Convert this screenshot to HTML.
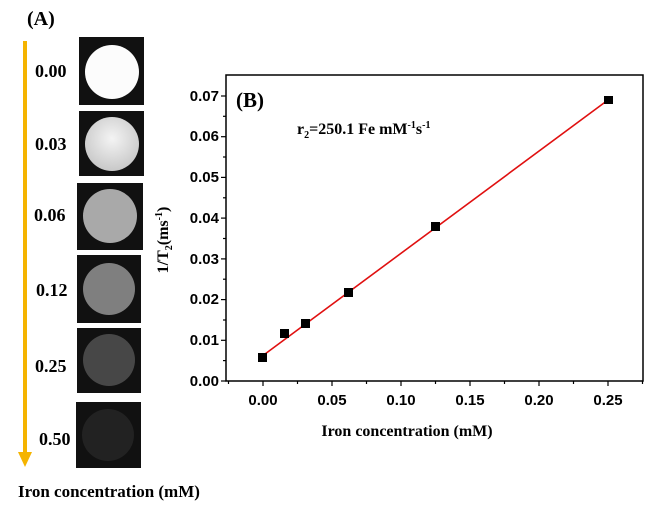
<!DOCTYPE html>
<html><head><style>
body{margin:0;width:659px;height:509px;background:#fff;overflow:hidden;position:relative;font-family:"Liberation Serif",serif;font-weight:bold}
</style></head><body>
<svg width="659" height="509" style="position:absolute;left:0;top:0" font-family="Liberation Serif, serif" font-weight="bold">
<defs>
<radialGradient id="g2" cx="0.5" cy="0.4" r="0.6"><stop offset="0" stop-color="#f4f4f4"/><stop offset="1" stop-color="#c8c8c8"/></radialGradient>
</defs>
<text x="27" y="25" font-size="20">(A)</text>
<line x1="25" y1="41" x2="25" y2="455" stroke="#f5b400" stroke-width="4"/>
<polygon points="18,452 32,452 25,467" fill="#f5b400"/>
<rect x="79" y="37" width="65" height="68" fill="#111"/><circle cx="112" cy="72" r="27" fill="#fcfcfc"/>
<rect x="79" y="111" width="65" height="65" fill="#111"/><circle cx="112" cy="144" r="27" fill="url(#g2)"/>
<rect x="77" y="183" width="66" height="67" fill="#111"/><circle cx="110" cy="216" r="27" fill="#a9a9a9"/>
<rect x="77" y="255" width="64" height="68" fill="#111"/><circle cx="109" cy="289" r="26" fill="#7f7f7f"/>
<rect x="77" y="328" width="64" height="65" fill="#111"/><circle cx="109" cy="360" r="26" fill="#474747"/>
<rect x="76" y="402" width="65" height="66" fill="#111"/><circle cx="108" cy="435" r="26" fill="#222"/>
<g font-size="18">
<text x="35" y="77">0.00</text><text x="35" y="150">0.03</text><text x="34" y="221">0.06</text>
<text x="36" y="296">0.12</text><text x="35" y="372">0.25</text><text x="39" y="445">0.50</text>
</g>
<text x="18" y="497" font-size="17">Iron concentration (mM)</text>
<rect x="226" y="75" width="417" height="306" fill="none" stroke="#000" stroke-width="1.5"/>
<g stroke="#000" stroke-width="1.2">
<line x1="226" y1="381" x2="221" y2="381"/><line x1="226" y1="340.3" x2="221" y2="340.3"/><line x1="226" y1="299.6" x2="221" y2="299.6"/><line x1="226" y1="258.9" x2="221" y2="258.9"/><line x1="226" y1="218.1" x2="221" y2="218.1"/><line x1="226" y1="177.4" x2="221" y2="177.4"/><line x1="226" y1="136.7" x2="221" y2="136.7"/><line x1="226" y1="96" x2="221" y2="96"/>
<line x1="226" y1="360.6" x2="223" y2="360.6"/><line x1="226" y1="320" x2="223" y2="320"/><line x1="226" y1="279.2" x2="223" y2="279.2"/><line x1="226" y1="238.5" x2="223" y2="238.5"/><line x1="226" y1="197.8" x2="223" y2="197.8"/><line x1="226" y1="157" x2="223" y2="157"/><line x1="226" y1="116.3" x2="223" y2="116.3"/>
<line x1="263" y1="381" x2="263" y2="386"/><line x1="332" y1="381" x2="332" y2="386"/><line x1="401" y1="381" x2="401" y2="386"/><line x1="470" y1="381" x2="470" y2="386"/><line x1="539" y1="381" x2="539" y2="386"/><line x1="608" y1="381" x2="608" y2="386"/>
<line x1="228.5" y1="381" x2="228.5" y2="384"/><line x1="297.5" y1="381" x2="297.5" y2="384"/><line x1="366.5" y1="381" x2="366.5" y2="384"/><line x1="435.5" y1="381" x2="435.5" y2="384"/><line x1="504.5" y1="381" x2="504.5" y2="384"/><line x1="573.5" y1="381" x2="573.5" y2="384"/><line x1="642.5" y1="381" x2="642.5" y2="384"/>
</g>
<g font-family="Liberation Sans, sans-serif" font-size="15" text-anchor="end">
<text x="219" y="386">0.00</text><text x="219" y="345">0.01</text><text x="219" y="304">0.02</text><text x="219" y="264">0.03</text><text x="219" y="223">0.04</text><text x="219" y="182">0.05</text><text x="219" y="141">0.06</text><text x="219" y="101">0.07</text>
</g>
<g font-family="Liberation Sans, sans-serif" font-size="15" text-anchor="middle">
<text x="263" y="405">0.00</text><text x="332" y="405">0.05</text><text x="401" y="405">0.10</text><text x="470" y="405">0.15</text><text x="539" y="405">0.20</text><text x="608" y="405">0.25</text>
</g>
<text x="407" y="436" font-size="16" text-anchor="middle">Iron concentration (mM)</text>
<text transform="translate(168,240) rotate(-90)" font-size="16" text-anchor="middle">1/T<tspan font-size="10" dy="4">2</tspan><tspan dy="-4">(ms</tspan><tspan font-size="10" dy="-6">-1</tspan><tspan dy="6">)</tspan></text>
<text x="236" y="107" font-size="21">(B)</text>
<text x="297" y="134" font-size="16">r<tspan font-size="10" dy="4">2</tspan><tspan dy="-4">=250.1 Fe mM</tspan><tspan font-size="10" dy="-6">-1</tspan><tspan dy="6">s</tspan><tspan font-size="10" dy="-6">-1</tspan></text>
<line x1="263" y1="355.5" x2="608" y2="100" stroke="#e01010" stroke-width="1.6"/>
<g fill="#000">
<rect x="258" y="353" width="9" height="9"/><rect x="280" y="329" width="9" height="9"/><rect x="301" y="319" width="9" height="9"/><rect x="344" y="288" width="9" height="9"/><rect x="431" y="222" width="9" height="9"/><rect x="604" y="96" width="9" height="8"/>
</g>
</svg>
</body></html>
